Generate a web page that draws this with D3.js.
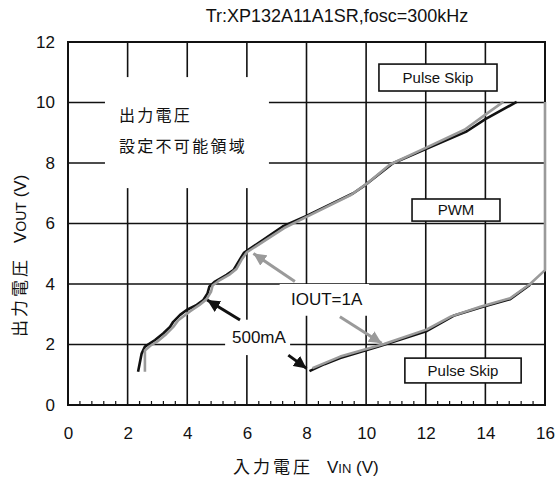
<!DOCTYPE html>
<html>
<head>
<meta charset="utf-8">
<script src="https://cdn.jsdelivr.net/npm/d3@7"></script>
<style>
  body { margin: 0; background: #fff; }
  svg { display: block; }
  text, tspan { font-family: "Liberation Sans", Arial, sans-serif; fill: #111; }
  .jp { font-family: "Noto Sans CJK JP", sans-serif; fill: #111; }
</style>
</head>
<body>
<div id="container"></div>
<script>
// Data (VIN, VOUT)
const xTicks = [0, 2, 4, 6, 8, 10, 12, 14, 16];
const yTicks = [0, 2, 4, 6, 8, 10, 12];

const upper500mA = [
  [2.35, 1.1], [2.47, 1.7], [2.58, 1.93], [2.92, 2.15], [3.2, 2.37], [3.42, 2.58],
  [3.53, 2.75], [3.76, 2.98], [3.98, 3.14], [4.32, 3.31], [4.54, 3.47], [4.68, 3.69],
  [4.74, 3.91], [4.93, 4.08], [5.32, 4.3], [5.55, 4.46], [5.72, 4.74], [5.9, 5.03],
  [7.2, 5.9], [8.0, 6.25], [9.57, 7.0], [9.97, 7.27], [10.9, 7.99], [11.98, 8.45],
  [13.38, 9.05], [14.0, 9.45], [15.05, 10.02]
];
const upper1A = [
  [2.58, 1.1], [2.58, 1.8], [2.75, 1.95], [3.0, 2.1], [3.3, 2.35], [3.55, 2.6],
  [3.7, 2.8], [3.9, 2.95], [4.1, 3.1], [4.4, 3.3], [4.65, 3.5], [4.8, 3.75],
  [4.85, 3.95], [5.05, 4.1], [5.4, 4.3], [5.65, 4.5], [5.82, 4.8], [6.0, 5.05],
  [7.25, 5.85], [8.0, 6.22], [9.5, 6.95], [10.0, 7.3], [10.8, 7.95], [12.0, 8.5],
  [13.3, 9.1], [14.0, 9.6], [14.6, 10.02]
];
const lower500mA = [
  [8.1, 1.12], [8.6, 1.35], [9.13, 1.55], [10.47, 1.95], [12.04, 2.45],
  [12.93, 2.95], [13.83, 3.22], [14.83, 3.5], [15.5, 3.98]
];
const lower1A = [
  [8.2, 1.22], [9.13, 1.6], [10.6, 2.02], [12.04, 2.5], [12.85, 2.93],
  [13.83, 3.25], [14.83, 3.53], [15.5, 4.0], [16, 4.46], [16, 10.02]
];

const svg = d3.select('#container').append('svg')
  .attr('width', 557)
  .attr('height', 481);

// Scales
const x = d3.scaleLinear().domain([0, 16]).range([68, 545]);
const y = d3.scaleLinear().domain([0, 12]).range([405, 42]);

// Title
svg.append('text')
  .attr('x', 337).attr('y', 22)
  .attr('text-anchor', 'middle')
  .style('font-size', '18px')
  .text('Tr:XP132A11A1SR,fosc=300kHz');

// Grid
const grid = svg.append('g').attr('stroke', '#111').attr('stroke-width', 1.6);
grid.selectAll('.vx').data(xTicks.slice(1, -1)).join('line')
  .attr('x1', d => x(d)).attr('x2', d => x(d))
  .attr('y1', y(0)).attr('y2', y(12));
grid.selectAll('.hy').data(yTicks.slice(1, -1)).join('line')
  .attr('x1', x(0)).attr('x2', x(16))
  .attr('y1', d => y(d)).attr('y2', d => y(d));

// Minor ticks on the bottom axis
const minor = d3.range(0, 16.001, 0.4).filter(v => Math.abs(v / 2 - Math.round(v / 2)) > 1e-6);
grid.selectAll('.mt').data(minor).join('line')
  .attr('stroke-width', 1.2)
  .attr('x1', d => x(d)).attr('x2', d => x(d))
  .attr('y1', y(0)).attr('y2', y(0) - 4);

// White patches behind the labels
const patches = [
  [1.24, 10.84, 6.74, 7.17],
  [7.1, 4.0, 10.1, 2.95],
  [5.27, 2.82, 7.45, 1.65]
];
svg.selectAll('.patch').data(patches).join('rect')
  .attr('fill', '#fff')
  .attr('x', d => x(d[0])).attr('y', d => y(d[1]))
  .attr('width', d => x(d[2]) - x(d[0])).attr('height', d => y(d[3]) - y(d[1]));

// Frame
svg.append('rect')
  .attr('x', x(0)).attr('y', y(12))
  .attr('width', x(16) - x(0)).attr('height', y(0) - y(12))
  .attr('fill', 'none').attr('stroke', '#111').attr('stroke-width', 2);

// Axes labels
const xAxis = svg.append('g')
  .attr('transform', `translate(0,${y(0)})`)
  .call(d3.axisBottom(x).tickValues(xTicks).tickSize(0).tickPadding(22).tickFormat(d3.format('d')));
const yAxis = svg.append('g')
  .attr('transform', `translate(${x(0)},0)`)
  .call(d3.axisLeft(y).tickValues(yTicks).tickSize(0).tickPadding(13).tickFormat(d3.format('d')));
[xAxis, yAxis].forEach(a => {
  a.select('.domain').remove();
  a.selectAll('text').style('font-size', '17px').attr('fill', '#111')
    .style('font-family', '"Liberation Sans", Arial, sans-serif');
});

// Curves
const line = d3.line().x(d => x(d[0])).y(d => y(d[1]));
const curves = [
  { data: lower500mA, color: '#111' },
  { data: lower1A, color: '#9a9a9a' },
  { data: upper500mA, color: '#111' },
  { data: upper1A, color: '#9a9a9a' }
];
svg.selectAll('.curve').data(curves).join('path')
  .attr('d', d => line(d.data))
  .attr('fill', 'none')
  .attr('stroke', d => d.color)
  .attr('stroke-width', 2.6)
  .attr('stroke-linejoin', 'round');

// Arrow markers
const defs = svg.append('defs');
[['ah-black', '#111'], ['ah-gray', '#9a9a9a']].forEach(([id, c]) => {
  defs.append('marker')
    .attr('id', id)
    .attr('viewBox', '0 0 10 10')
    .attr('refX', 10).attr('refY', 5)
    .attr('markerWidth', 4.2).attr('markerHeight', 4.2)
    .attr('markerUnits', 'strokeWidth')
    .attr('orient', 'auto')
    .append('path').attr('d', 'M0,0L10,5L0,10Z').attr('fill', c);
});

const arrows = [
  { from: [5.77, 2.81], to: [4.67, 3.47], color: '#111', marker: 'ah-black' },
  { from: [7.39, 1.65], to: [8.0, 1.21], color: '#111', marker: 'ah-black' },
  { from: [7.61, 4.08], to: [6.22, 5.01], color: '#9a9a9a', marker: 'ah-gray' },
  { from: [9.12, 2.92], to: [10.52, 2.04], color: '#9a9a9a', marker: 'ah-gray' }
];
svg.selectAll('.arrow').data(arrows).join('line')
  .attr('x1', d => x(d.from[0])).attr('y1', d => y(d.from[1]))
  .attr('x2', d => x(d.to[0])).attr('y2', d => y(d.to[1]))
  .attr('stroke', d => d.color)
  .attr('stroke-width', 3)
  .attr('marker-end', d => `url(#${d.marker})`);

// Labels
svg.append('text').attr('class', 'jp')
  .attr('x', x(1.71)).attr('y', y(9.4))
  .style('font-size', '16px').style('letter-spacing', '2.3px')
  .text('出力電圧');
svg.append('text').attr('class', 'jp')
  .attr('x', x(1.71)).attr('y', y(8.35))
  .style('font-size', '16px').style('letter-spacing', '2.3px')
  .text('設定不可能領域');

svg.append('text')
  .attr('x', x(7.48)).attr('y', y(3.3))
  .style('font-size', '17px')
  .text('IOUT=1A');
svg.append('text')
  .attr('x', x(5.5)).attr('y', y(2.05))
  .style('font-size', '17px')
  .text('500mA');

// Mode boxes
const boxes = [
  { label: 'Pulse Skip', x0: 10.43, x1: 14.39, y0: 11.27, y1: 10.38 },
  { label: 'PWM', x0: 11.54, x1: 14.49, y0: 6.81, y1: 6.08 },
  { label: 'Pulse Skip', x0: 11.3, x1: 15.2, y0: 1.55, y1: 0.73 }
];
const bx = svg.selectAll('.box').data(boxes).join('g');
bx.append('rect')
  .attr('x', d => x(d.x0)).attr('y', d => y(d.y0))
  .attr('width', d => x(d.x1) - x(d.x0)).attr('height', d => y(d.y1) - y(d.y0))
  .attr('fill', '#fff').attr('stroke', '#111').attr('stroke-width', 1.6);
bx.append('text')
  .attr('x', d => (x(d.x0) + x(d.x1)) / 2)
  .attr('y', d => (y(d.y0) + y(d.y1)) / 2 + 5)
  .attr('text-anchor', 'middle')
  .style('font-size', '15px')
  .text(d => d.label);

// Axis titles
const xt = svg.append('text').attr('x', 233).attr('y', 473).style('font-size', '17px');
xt.append('tspan').attr('class', 'jp').style('letter-spacing', '3px').text('入力電圧');
xt.append('tspan').attr('dx', 14).text('V');
xt.append('tspan').style('font-size', '13px').text('IN');
xt.append('tspan').text(' (V)');

const yt = svg.append('text')
  .attr('transform', 'translate(26,337) rotate(-90)')
  .style('font-size', '17px');
yt.append('tspan').attr('class', 'jp').style('letter-spacing', '3px').text('出力電圧');
yt.append('tspan').attr('dx', 14).text('V');
yt.append('tspan').style('font-size', '14px').text('OUT');
yt.append('tspan').text(' (V)');
</script>
</body>
</html>
